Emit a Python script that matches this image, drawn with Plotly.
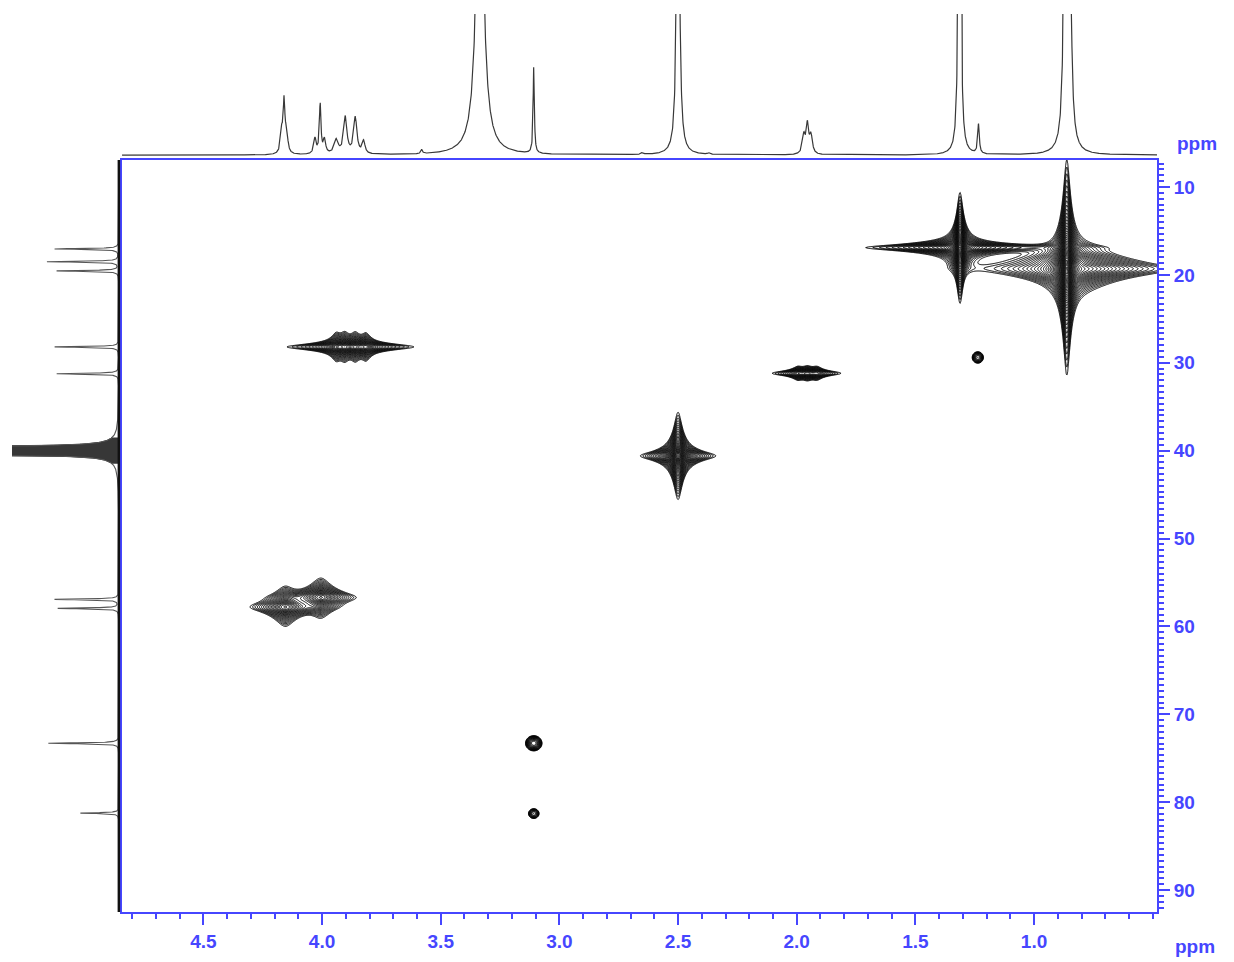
import numpy as np
import plotly.graph_objects as go

BLUE = "#4646FF"
FONT = "Liberation Sans, Arial, sans-serif"

# ---------------- 1H projection (top): peak list ----------------
h_ppm = [4.170, 4.160, 4.150, 4.030, 4.008, 3.990, 3.940, 3.902, 3.860, 3.825,
         3.580, 3.335, 3.108, 2.650, 2.500, 2.370, 1.970, 1.955, 1.940,
         1.314, 1.234, 0.868, 0.852]
h_amp = [0.16, 0.34, 0.16, 0.11, 0.35, 0.10, 0.10, 0.26, 0.26, 0.09,
         0.03, 2.40, 0.62, 0.015, 3.00, 0.01, 0.13, 0.20, 0.13,
         5.00, 0.21, 3.00, 3.00]
h_hw = [0.006, 0.004, 0.006, 0.006, 0.004, 0.006, 0.010, 0.008, 0.008, 0.007,
        0.004, 0.017, 0.003, 0.006, 0.006, 0.006, 0.007, 0.006, 0.007,
        0.004, 0.004, 0.006, 0.006]

# ---------------- 13C projection (left) ----------------
c_ppm = [17.05, 18.50, 19.55, 28.20, 31.25, 39.60, 39.80, 40.00, 40.20, 40.40,
         56.93, 57.95, 73.30, 81.25]
c_amp = [0.60, 0.67, 0.58, 0.60, 0.58, 1.50, 3.00, 4.00, 3.00, 1.50,
         0.60, 0.57, 0.66, 0.36]
c_hw = [0.06, 0.06, 0.06, 0.06, 0.06, 0.10, 0.10, 0.10, 0.10, 0.10,
        0.06, 0.06, 0.06, 0.06]
solvent_c = (38.5, 41.5)  # DMSO-d6 septet region (off-scale, drawn solid)

# ---------------- 2D HSQC cross peaks ----------------
# lineshape: 0 = Lorentzian (star-shaped contours), 1 = Gaussian (round spot)
cp_h   = [1.312, 1.330, 0.862, 0.862, 0.800, 1.237,
          3.940, 3.905, 3.860, 3.815, 3.880,
          1.995, 1.955, 1.915, 1.960,
          2.500,
          4.155, 4.005,
          3.108, 3.108]
cp_c   = [16.9, 16.9, 18.4, 19.8, 19.3, 29.4,
          28.2, 28.2, 28.2, 28.2, 28.2,
          31.2, 31.2, 31.2, 31.2,
          40.6,
          57.8, 56.7,
          73.3, 81.3]
cp_amp = [0.80, 0.06, 1.00, 1.00, 0.10, 0.04,
          0.08, 0.08, 0.08, 0.08, 0.05,
          0.03, 0.03, 0.03, 0.025,
          1.00,
          0.14, 0.14,
          0.06, 0.035]
cp_wh  = [0.012, 0.160, 0.014, 0.014, 0.120, 0.020,
          0.018, 0.018, 0.018, 0.018, 0.120,
          0.020, 0.020, 0.020, 0.100,
          0.016,
          0.040, 0.040,
          0.026, 0.020]
cp_wc  = [0.70, 0.35, 0.85, 0.85, 0.70, 0.55,
          0.50, 0.50, 0.50, 0.50, 0.35,
          0.40, 0.40, 0.40, 0.30,
          0.50,
          0.60, 0.60,
          0.65, 0.50]
cp_shape = [0, 0, 0, 0, 0, 1,
            0, 0, 0, 0, 0,
            0, 0, 0, 0,
            0,
            0, 0,
            1, 1]

# regions in which contours are evaluated (ppm)
win_h = [(0.48, 1.80), (3.45, 4.30), (1.65, 2.25), (2.20, 2.80), (3.75, 4.45),
         (2.96, 3.26), (2.96, 3.26)]
win_c = [(6.9, 34.0), (23.0, 33.5), (28.0, 34.5), (33.0, 49.0), (51.0, 63.0),
         (69.5, 77.0), (78.0, 84.6)]

H_RANGE = [4.843, 0.482]
C_RANGE = [92.5, 6.93]
x_ticks = [4.5, 4.0, 3.5, 3.0, 2.5, 2.0, 1.5, 1.0]
x_ticklabels = ["4.5", "4.0", "3.5", "3.0", "2.5", "2.0", "1.5", "1.0"]
y_ticks = [10, 20, 30, 40, 50, 60, 70, 80, 90]


def lor(x, x0, w):
    return 1.0 / (1.0 + ((x - x0) / w) ** 2)


def gau(x, x0, w):
    return np.exp(-((x - x0) / w) ** 2)


fig = go.Figure()

# 2D contours
for (h0, h1), (c0, c1) in zip(win_h, win_c):
    xs = np.arange(h0, h1, 0.003)
    ys = np.arange(c0, c1, 0.08)
    X, Y = np.meshgrid(xs, ys)
    Z = np.zeros_like(X)
    for ph, pc, a, wh, wc, s in zip(cp_h, cp_c, cp_amp, cp_wh, cp_wc, cp_shape):
        f = gau if s else lor
        Z += a * f(X, ph, wh) * f(Y, pc, wc)
    LZ = np.round(np.maximum(np.log10(Z + 1e-12), -4), 3)
    fig.add_trace(go.Contour(
        x=np.round(xs, 4), y=np.round(ys, 3), z=LZ, xaxis="x", yaxis="y",
        contours=dict(coloring="lines", start=-2.0, end=0.4, size=0.06, showlabels=False),
        line=dict(width=1.0, smoothing=0.6),
        colorscale=[[0, "#000000"], [1, "#000000"]], showscale=False,
        hoverinfo="skip"))

# 1H projection
hx = np.arange(0.482, 4.843, 0.0008)
hy = np.zeros_like(hx)
for p, a, w in zip(h_ppm, h_amp, h_hw):
    hy += a * lor(hx, p, w)
fig.add_trace(go.Scatter(x=np.round(hx, 4), y=np.round(hy, 4), xaxis="x2", yaxis="y2",
                         mode="lines", line=dict(color="#383838", width=1.2),
                         hoverinfo="skip"))

# 13C projection
cy = np.arange(6.93, 92.5, 0.01)
cx = np.zeros_like(cy)
for p, a, w in zip(c_ppm, c_amp, c_hw):
    cx += a * lor(cy, p, w)
m = (cy > solvent_c[0]) & (cy < solvent_c[1])
fig.add_trace(go.Scatter(x=np.round(cx[m], 4), y=np.round(cy[m], 3), xaxis="x3", yaxis="y3",
                         mode="lines", line=dict(color="#222222", width=1),
                         fill="tozerox", fillcolor="rgba(20,20,20,0.85)",
                         hoverinfo="skip"))
fig.add_trace(go.Scatter(x=np.round(cx, 4), y=np.round(cy, 3), xaxis="x3", yaxis="y3",
                         mode="lines", line=dict(color="#555555", width=1.1),
                         hoverinfo="skip"))
fig.add_trace(go.Scatter(x=[0, 0], y=[6.93, 92.5], xaxis="x3", yaxis="y3",
                         mode="lines", line=dict(color="#111111", width=2.5),
                         hoverinfo="skip"))

W, H = 1234, 962
xd = [122 / W, 1157 / W]
yd = [1 - 912 / H, 1 - 160 / H]
tickfont = dict(family=FONT, size=19, color=BLUE, weight="bold")

fig.update_layout(
    width=W, height=H, margin=dict(l=0, r=0, t=0, b=0),
    paper_bgcolor="white", plot_bgcolor="white", showlegend=False, hovermode=False,
    xaxis=dict(domain=xd, anchor="y", range=H_RANGE, showline=True, linecolor=BLUE,
               linewidth=2, mirror=True, ticks="outside", ticklen=11, tickwidth=2,
               tickcolor=BLUE, tickmode="array", tickvals=x_ticks, ticktext=x_ticklabels,
               tickfont=tickfont,
               minor=dict(ticks="outside", tickmode="linear", tick0=0, dtick=0.1,
                          ticklen=5, tickwidth=2, tickcolor=BLUE),
               showgrid=False, zeroline=False, automargin=False),
    yaxis=dict(domain=yd, anchor="x", side="right", range=C_RANGE, showline=True,
               linecolor=BLUE, linewidth=2, mirror=True, ticks="outside", ticklen=11,
               tickwidth=2, tickcolor=BLUE, tickmode="array", tickvals=y_ticks,
               tickfont=tickfont,
               minor=dict(ticks="outside", tickmode="linear", tick0=0, dtick=10 / 15,
                          ticklen=5, tickwidth=1.5, tickcolor=BLUE),
               showgrid=False, zeroline=False, automargin=False),
    xaxis2=dict(domain=xd, anchor="y2", range=H_RANGE, visible=False),
    yaxis2=dict(domain=[1 - 158 / H, 1 - 14 / H], anchor="x2", range=[-0.02, 1.0],
                visible=False),
    xaxis3=dict(domain=[12 / W, 121 / W], anchor="y3", range=[1.0, -0.02], visible=False),
    yaxis3=dict(domain=yd, anchor="x3", range=C_RANGE, visible=False),
    annotations=[
        dict(text="ppm", x=1197 / W, y=1 - 143 / H, xref="paper", yref="paper",
             xanchor="center", yanchor="middle", showarrow=False, font=tickfont),
        dict(text="ppm", x=1195 / W, y=1 - 946 / H, xref="paper", yref="paper",
             xanchor="center", yanchor="middle", showarrow=False, font=tickfont),
    ],
)

fig.write_html("out.html")
